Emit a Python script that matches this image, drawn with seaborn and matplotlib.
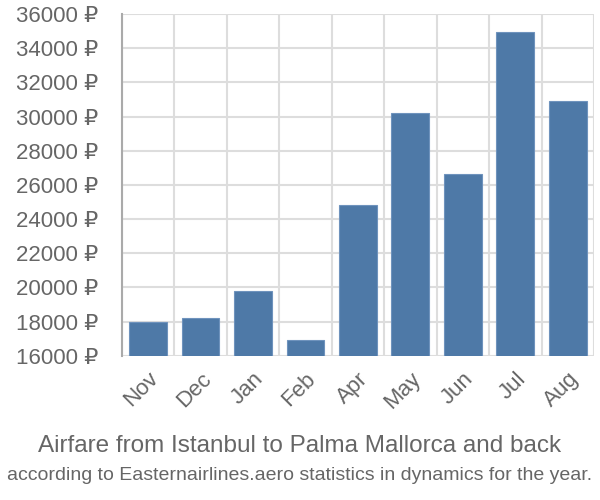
import matplotlib
matplotlib.use("Agg")
import matplotlib.pyplot as plt
import seaborn as sns
import pandas as pd
import numpy as np

months = ["Nov", "Dec", "Jan", "Feb", "Apr", "May", "Jun", "Jul", "Aug"]
prices = [17990, 18210, 19790, 16910, 24810, 30190, 26620, 34950, 30910]
yticks = [16000, 18000, 20000, 22000, 24000, 26000, 28000, 30000, 32000, 34000, 36000]
title = "Airfare from Istanbul to Palma Mallorca and back"
subtitle = "according to Easternairlines.aero statistics in dynamics for the year."

sns.set_style("white")
plt.rcParams["font.family"] = ["Liberation Sans", "DejaVu Sans"]

df = pd.DataFrame({"month": months, "price": prices})
fig = plt.figure(figsize=(6, 5), dpi=100)
ax = fig.add_axes([0.203, 0.2886, 0.787, 0.6834])

sns.barplot(data=df, x="month", y="price", color="#4e79a7", saturation=1,
            width=0.72, ax=ax, zorder=3)
for p in ax.patches:
    p.set_edgecolor("#6f93bd")
    p.set_linewidth(0.8)

ax.set_ylim(16000, 36000)
ax.set_xlim(-0.5, len(months) - 0.5)
ax.set_yticks(yticks)
ax.set_yticklabels([f"{v} ₽" for v in yticks])
ax.set_xticks(np.arange(-0.5, len(months), 1.0))
ax.set_xticklabels([])
ax.set_xticks(np.arange(len(months)), minor=True)
ax.set_xticklabels(months, minor=True, rotation=45, ha="right", va="top",
                   rotation_mode="anchor")
ax.tick_params(axis="x", which="major", length=15, color="#dddddd", width=1.5)
ax.tick_params(axis="x", which="minor", length=0, pad=9, labelsize=16, labelcolor="#666666")
ax.tick_params(axis="y", length=16, color="#dddddd", width=1.5, pad=1,
               labelsize=16, labelcolor="#666666")
ax.grid(True, which="major", color="#dddddd", linewidth=1.5, zorder=0)
ax.set_axisbelow(True)
for s in ["top", "right", "bottom"]:
    ax.spines[s].set_visible(False)
ax.spines["left"].set_color("#aaaaaa")
ax.spines["left"].set_linewidth(1.5)
ax.set_xlabel("")
ax.set_ylabel("")

fig.text(0.5, 0.107, title, ha="center", va="center", fontsize=17.5, color="#666666")
fig.text(0.5, 0.048, subtitle, ha="center", va="center", fontsize=14, color="#666666")

fig.savefig("out.png", dpi=100)
